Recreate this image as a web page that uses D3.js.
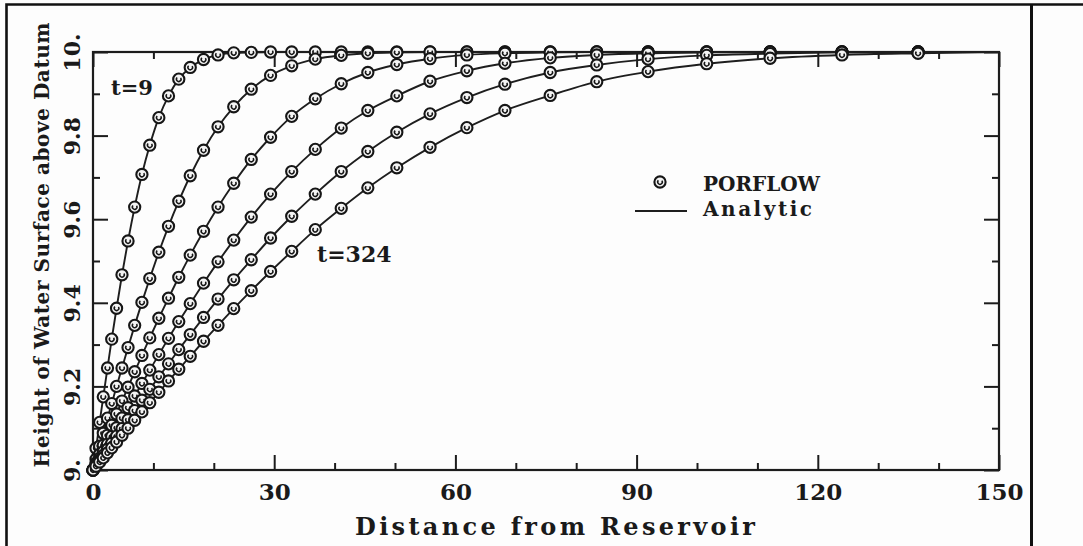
<!DOCTYPE html>
<html>
<head>
<meta charset="utf-8">
<script src="https://d3js.org/d3.v7.min.js"></script>
<style>
    body { margin: 0; background: #fdfdfd; }
    svg { display: block; background: #fdfdfd; }
    .font { font-family: "DejaVu Serif", serif; font-weight: bold; fill: #1a1a1a; }
    .axis line { stroke: #1c1c1c; stroke-width: 2; }
    .axis path { display: none; }
    .curve { fill: none; stroke: #1e1e1e; stroke-width: 1.9; }
    .marker circle { fill: #f4f4f4; stroke: #161616; stroke-width: 2.1; }
    .marker path { fill: none; stroke: #161616; stroke-width: 1.5; }
</style>
</head>
<body>
<script>
// grid nodes of the numerical model (distance from reservoir)
const GRID_X = [0, 0.5, 1.1, 1.7, 2.4, 3.1, 3.9, 4.8, 5.8, 6.9, 8.1, 9.4, 10.9, 12.5, 14.2, 16.1,
    18.3, 20.7, 23.3, 26.2, 29.4, 32.9, 36.8, 41.1, 45.5, 50.3, 55.8, 61.9, 68.2, 75.7, 83.4, 91.9,
    101.6, 112.1, 124.0, 136.6];
const LINE_END_X = 150;
const LINE_END_H = 10;

const TIMES = [9, 36, 81, 144, 225, 324];
const H_T9 = [9.000, 9.052, 9.114, 9.175, 9.244, 9.313, 9.387, 9.467, 9.548, 9.629, 9.707, 9.777,
    9.843, 9.895, 9.935, 9.963, 9.982, 9.993, 9.998, 9.999, 10, 10, 10, 10, 10, 10, 10, 10, 10, 10,
    10, 10, 10, 10, 10, 10];
const H_T36 = [9.000, 9.026, 9.057, 9.088, 9.124, 9.159, 9.200, 9.244, 9.293, 9.346, 9.401, 9.458,
    9.521, 9.583, 9.643, 9.704, 9.765, 9.821, 9.869, 9.911, 9.944, 9.967, 9.983, 9.992, 9.997, 9.999,
    10, 10, 10, 10, 10, 10, 10, 10, 10, 10];
const H_T81 = [9.000, 9.017, 9.038, 9.059, 9.083, 9.107, 9.134, 9.165, 9.198, 9.235, 9.274, 9.316,
    9.363, 9.411, 9.461, 9.514, 9.571, 9.629, 9.686, 9.743, 9.796, 9.846, 9.888, 9.924, 9.951, 9.970,
    9.984, 9.993, 9.997, 9.999, 10, 10, 10, 10, 10, 10];
const H_T144 = [9.000, 9.013, 9.028, 9.044, 9.062, 9.080, 9.101, 9.124, 9.149, 9.177, 9.207, 9.239,
    9.276, 9.315, 9.355, 9.398, 9.447, 9.498, 9.550, 9.605, 9.660, 9.714, 9.767, 9.818, 9.860, 9.895,
    9.930, 9.955, 9.973, 9.986, 9.993, 9.997, 9.999, 10, 10, 10];
const H_T225 = [9.000, 9.010, 9.023, 9.035, 9.050, 9.064, 9.081, 9.099, 9.120, 9.142, 9.167, 9.193,
    9.223, 9.254, 9.288, 9.324, 9.365, 9.409, 9.455, 9.503, 9.555, 9.607, 9.660, 9.714, 9.762, 9.808,
    9.852, 9.891, 9.923, 9.951, 9.969, 9.983, 9.992, 9.996, 9.999, 10.000];
const H_T324 = [9.000, 9.009, 9.019, 9.029, 9.041, 9.053, 9.067, 9.083, 9.100, 9.119, 9.139, 9.161,
    9.186, 9.213, 9.241, 9.272, 9.308, 9.346, 9.386, 9.429, 9.475, 9.523, 9.575, 9.626, 9.675, 9.723,
    9.772, 9.819, 9.860, 9.896, 9.929, 9.953, 9.972, 9.985, 9.993, 9.997];
const SERIES = [H_T9, H_T36, H_T81, H_T144, H_T225, H_T324];

const X_TICKS_MAJOR = [0, 30, 60, 90, 120, 150];
const X_TICKS_MINOR = [10, 20, 40, 50, 70, 80, 100, 110, 130, 140];
const Y_TICKS_MAJOR = [9, 9.2, 9.4, 9.6, 9.8, 10];
const Y_TICKS_MINOR = [9.1, 9.3, 9.5, 9.7, 9.9];

const X_TITLE = "Distance from Reservoir";
const Y_TITLE = "Height of Water Surface above Datum";
const LEGEND_MARKER_TXT = "PORFLOW";
const LEGEND_LINE_TXT = "Analytic";

const SVG_WIDTH = 1083;
const SVG_HEIGHT = 546;
const PLOT_LEFT = 93;
const PLOT_RIGHT = 999;
const PLOT_TOP = 52;
const PLOT_BOTTOM = 470;
const MAJOR_TICK = 15;
const MINOR_TICK = 7;

var svg = d3.select("body").append("svg")
    .attr("width", SVG_WIDTH)
    .attr("height", SVG_HEIGHT);

// page frame (table cell borders)
svg.append("path")
    .attr("d", "M6.5," + SVG_HEIGHT + "V4.5H" + SVG_WIDTH)
    .attr("fill", "none").attr("stroke", "#111").attr("stroke-width", 2.6);
svg.append("line")
    .attr("x1", 1031.5).attr("x2", 1031.5).attr("y1", 4).attr("y2", SVG_HEIGHT)
    .attr("stroke", "#111").attr("stroke-width", 3);

var x = d3.scaleLinear().domain([0, 150]).range([PLOT_LEFT, PLOT_RIGHT]);
var y = d3.scaleLinear().domain([9, 10]).range([PLOT_BOTTOM, PLOT_TOP]);

// plot box
svg.append("rect")
    .attr("x", PLOT_LEFT).attr("y", PLOT_TOP)
    .attr("width", PLOT_RIGHT - PLOT_LEFT).attr("height", PLOT_BOTTOM - PLOT_TOP)
    .attr("fill", "none").attr("stroke", "#1c1c1c").attr("stroke-width", 2.2);

function addTicks(axisFn, scale, values, size, transform) {
    return svg.append("g").attr("class", "axis").attr("transform", transform)
        .call(axisFn(scale).tickValues(values).tickSize(-size).tickSizeOuter(0).tickFormat(""));
}

addTicks(d3.axisBottom, x, X_TICKS_MINOR, MINOR_TICK, "translate(0," + PLOT_BOTTOM + ")");
addTicks(d3.axisTop, x, X_TICKS_MINOR, MINOR_TICK, "translate(0," + PLOT_TOP + ")");
addTicks(d3.axisTop, x, X_TICKS_MAJOR, MAJOR_TICK, "translate(0," + PLOT_TOP + ")");
addTicks(d3.axisLeft, y, Y_TICKS_MINOR, MINOR_TICK, "translate(" + PLOT_LEFT + ",0)");
addTicks(d3.axisRight, y, Y_TICKS_MINOR, MINOR_TICK, "translate(" + PLOT_RIGHT + ",0)");
addTicks(d3.axisRight, y, Y_TICKS_MAJOR, MAJOR_TICK, "translate(" + PLOT_RIGHT + ",0)");

// labelled axes
var xAxis = svg.append("g").attr("class", "axis")
    .attr("transform", "translate(0," + PLOT_BOTTOM + ")")
    .call(d3.axisBottom(x).tickValues(X_TICKS_MAJOR).tickSize(-MAJOR_TICK)
        .tickSizeOuter(0).tickPadding(14).tickFormat(d3.format("d")));
xAxis.selectAll("text").attr("class", "font").style("font-size", "23px");

var yAxis = svg.append("g").attr("class", "axis")
    .attr("transform", "translate(" + PLOT_LEFT + ",0)")
    .call(d3.axisLeft(y).tickValues(Y_TICKS_MAJOR).tickSize(-MAJOR_TICK).tickSizeOuter(0)
        .tickFormat(function(d) {
            return Number.isInteger(d) ? d + "." : d3.format(".1f")(d);
        }));
yAxis.selectAll("text")
    .attr("class", "font")
    .style("font-size", "22px")
    .attr("x", null).attr("dy", null)
    .attr("text-anchor", "middle")
    .attr("transform", "translate(-13,0) rotate(-90)");

// axis titles
svg.append("text")
    .attr("class", "font")
    .attr("x", 555).attr("y", 535)
    .attr("text-anchor", "middle")
    .attr("textLength", 400).attr("lengthAdjust", "spacing")
    .style("font-size", "24px")
    .text(X_TITLE);

svg.append("text")
    .attr("class", "font")
    .attr("transform", "translate(49,245) rotate(-90)")
    .attr("text-anchor", "middle")
    .attr("textLength", 445).attr("lengthAdjust", "spacing")
    .style("font-size", "20px")
    .text(Y_TITLE);

// analytic curves
var line = d3.line()
    .x(function(d) { return x(d[0]); })
    .y(function(d) { return y(d[1]); })
    .curve(d3.curveMonotoneX);

var curveGroup = svg.append("g");
SERIES.forEach(function(values) {
    var pts = GRID_X.map(function(gx, i) { return [gx, values[i]]; });
    pts.push([LINE_END_X, LINE_END_H]);
    curveGroup.append("path").attr("class", "curve").attr("d", line(pts));
});

// PORFLOW markers
const MARKER_R = 5.6;
var innerArc = d3.arc()({innerRadius: 2.3, outerRadius: 2.3,
    startAngle: Math.PI * 0.3, endAngle: Math.PI * 1.75});

function drawMarker(g) {
    g.attr("class", "marker");
    g.append("circle").attr("r", MARKER_R);
    g.append("path").attr("d", innerArc);
}

var markerGroup = svg.append("g");
SERIES.forEach(function(values) {
    markerGroup.selectAll(null)
        .data(GRID_X.map(function(gx, i) { return [gx, values[i]]; }))
        .enter()
        .append("g")
        .attr("transform", function(d) {
            return "translate(" + x(d[0]) + "," + y(d[1]) + ")";
        })
        .each(function() { drawMarker(d3.select(this)); });
});

// curve labels
svg.append("text").attr("class", "font")
    .attr("x", 111).attr("y", 95)
    .style("font-size", "21px")
    .text("t=" + TIMES[0]);
svg.append("text").attr("class", "font")
    .attr("x", 317).attr("y", 262)
    .style("font-size", "22px")
    .text("t=" + TIMES[TIMES.length - 1]);

// legend
var legend = svg.append("g");
legend.append("g").attr("transform", "translate(660,182)")
    .each(function() { drawMarker(d3.select(this)); });
legend.append("text").attr("class", "font")
    .attr("x", 703).attr("y", 191)
    .attr("textLength", 117).attr("lengthAdjust", "spacing")
    .style("font-size", "20px")
    .text(LEGEND_MARKER_TXT);
legend.append("line")
    .attr("x1", 635).attr("x2", 687).attr("y1", 211).attr("y2", 211)
    .attr("stroke", "#1e1e1e").attr("stroke-width", 1.9);
legend.append("text").attr("class", "font")
    .attr("x", 703).attr("y", 216)
    .attr("textLength", 109).attr("lengthAdjust", "spacing")
    .style("font-size", "20px")
    .text(LEGEND_LINE_TXT);
</script>
</body>
</html>
